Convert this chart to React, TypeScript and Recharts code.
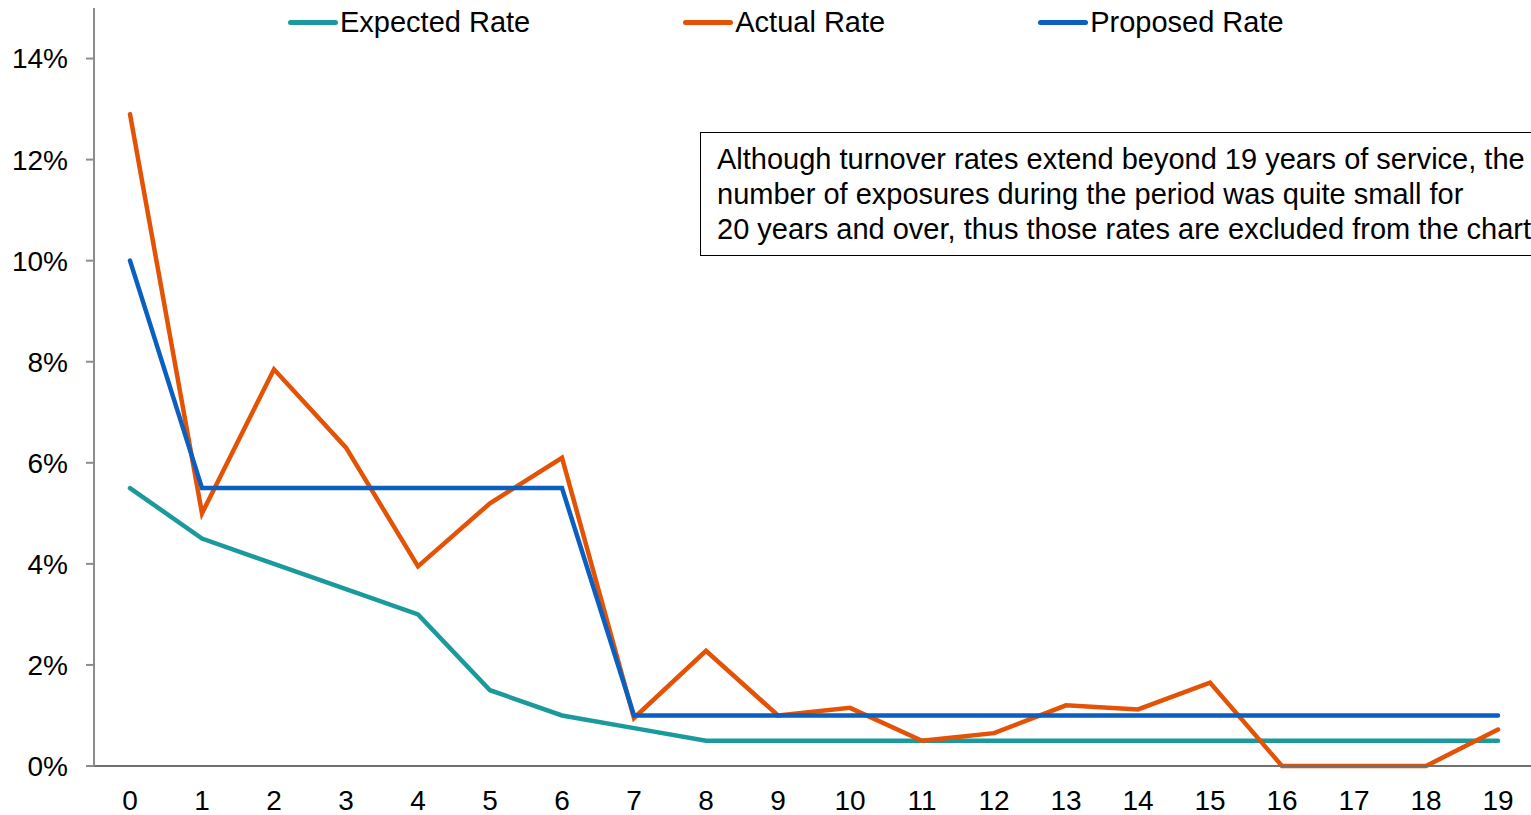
import React from "react";
import { LineChart, Line, XAxis, YAxis } from "recharts";

const years = ["0", "1", "2", "3", "4", "5", "6", "7", "8", "9", "10", "11", "12", "13", "14", "15", "16", "17", "18", "19"];
const expectedRate = [5.5, 4.5, 4.0, 3.5, 3.0, 1.5, 1.0, 0.75, 0.5, 0.5, 0.5, 0.5, 0.5, 0.5, 0.5, 0.5, 0.5, 0.5, 0.5, 0.5];
const actualRate = [12.9, 5.0, 7.85, 6.3, 3.95, 5.2, 6.1, 0.95, 2.28, 1.0, 1.15, 0.5, 0.65, 1.2, 1.12, 1.65, 0, 0, 0, 0.72];
const proposedRate = [10, 5.5, 5.5, 5.5, 5.5, 5.5, 5.5, 1, 1, 1, 1, 1, 1, 1, 1, 1, 1, 1, 1, 1];
const yTicks = [0, 2, 4, 6, 8, 10, 12, 14];

const series = [
  { key: "expected", name: "Expected Rate", color: "#1a9a9c" },
  { key: "actual", name: "Actual Rate", color: "#e35205" },
  { key: "proposed", name: "Proposed Rate", color: "#0a5fc0" },
];

const noteLines = [
  "Although turnover rates extend beyond 19 years of service, the",
  "number of exposures during the period was quite small for",
  "20 years and over, thus those rates are excluded from the chart.",
];

const data = years.map((y, i) => ({
  year: y,
  expected: expectedRate[i],
  actual: actualRate[i],
  proposed: proposedRate[i],
}));

const font = "'Liberation Sans', Arial, sans-serif";

export default function App() {
  return (
    <div
      style={{
        position: "fixed",
        left: 0,
        top: 0,
        width: 1531,
        height: 815,
        overflow: "hidden",
        background: "#fff",
        fontFamily: font,
      }}
    >
      <LineChart
        width={1540}
        height={815}
        data={data}
        margin={{ top: 8, right: 6, left: 0, bottom: 0 }}
      >
        <XAxis
          dataKey="year"
          stroke="#707070"
          strokeWidth={2}
          tickLine={false}
          tickSize={0}
          tickMargin={24}
          height={49}
          interval={0}
          padding={{ left: 36, right: 36 }}
          tick={{ fill: "#000", fontSize: 28, fontFamily: font }}
        />
        <YAxis
          domain={[0, 15]}
          ticks={yTicks}
          width={94}
          stroke="#8c8c8c"
          strokeWidth={2}
          tickSize={8}
          tickMargin={18}
          tickFormatter={(v: number) => `${v}%`}
          tick={{ fill: "#000", fontSize: 28, fontFamily: font }}
        />
        {series.map((s) => (
          <Line
            key={s.key}
            type="linear"
            dataKey={s.key}
            name={s.name}
            stroke={s.color}
            strokeWidth={4.5}
            strokeLinecap="round"
            dot={false}
            activeDot={false}
            isAnimationActive={false}
          />
        ))}
      </LineChart>

      {/* legend */}
      <div
        style={{
          position: "absolute",
          left: 288,
          top: 5,
          display: "flex",
          gap: 153,
          fontSize: 29,
          lineHeight: "34px",
          color: "#000",
        }}
      >
        {series.map((s) => (
          <div key={s.key} style={{ display: "flex", alignItems: "center" }}>
            <div
              style={{
                width: 50,
                height: 5,
                borderRadius: 3,
                background: s.color,
                marginRight: 2,
              }}
            />
            <span>{s.name}</span>
          </div>
        ))}
      </div>

      {/* note box */}
      <div
        style={{
          position: "absolute",
          left: 700,
          top: 132,
          width: 900,
          height: 124,
          border: "1.5px solid #000",
          boxSizing: "border-box",
          padding: "9px 0 0 16px",
          fontSize: 29,
          lineHeight: "35px",
          color: "#000",
          whiteSpace: "nowrap",
        }}
      >
        {noteLines.map((l, i) => (
          <div key={i}>{l}</div>
        ))}
      </div>
    </div>
  );
}
